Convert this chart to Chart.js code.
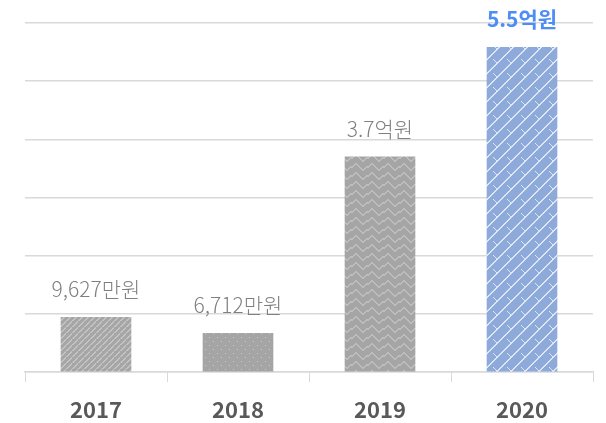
<!DOCTYPE html>
<html>
<head>
<meta charset="utf-8">
<script src="https://cdn.jsdelivr.net/npm/chart.js@4"></script>
<style>
  html, body { margin: 0; padding: 0; background: #fff; }
  #wrap { width: 606px; height: 423px; }
</style>
</head>
<body>
<div id="wrap"><canvas id="chart" width="606" height="423"></canvas></div>
<script>
const years = ['2017', '2018', '2019', '2020'];
const amounts = [0.94, 0.665, 3.7, 5.58]; // 억원
const valueLabels = ['9,627만원', '6,712만원', '3.7억원', '5.5억원'];
const labelColors = ['#7f7f7f', '#7f7f7f', '#7f7f7f', '#4d8ef6'];
const labelWeights = ['300', '300', '300', 'bold'];

const FONT = '"Noto Sans CJK KR", "Noto Sans", sans-serif';

// small tile patterns, rough imitation of the office fills
const makePattern = (w, h, draw) => {
    const c = document.createElement('canvas');
    c.width = w; c.height = h;
    const g = c.getContext('2d');
    draw(g, w, h);
    return c.getContext('2d').createPattern(c, 'repeat');
};

const stripes = makePattern(6, 6, (g, w, h) => {
    g.fillStyle = '#a6a6a6'; g.fillRect(0, 0, w, h);
    g.fillStyle = '#c3c3c3';
    for (let i = 0; i < 6; i++) {
        g.fillRect((i + 3) % 6, 5 - i, 2, 1);
    }
});

const dots = makePattern(8, 8, (g, w, h) => {
    g.fillStyle = '#a5a5a5'; g.fillRect(0, 0, w, h);
    g.fillStyle = '#c9c9c9';
    g.fillRect(1, 1, 1, 1);
    g.fillRect(5, 5, 1, 1);
});

const waves = makePattern(16, 9, (g, w, h) => {
    g.fillStyle = '#a5a5a5'; g.fillRect(0, 0, w, h);
    g.fillStyle = '#bdbdbd';
    const ys = [4, 3, 2, 1, 1, 2, 3, 4, 5, 6, 7, 7, 6, 5, 4, 4];
    ys.forEach((y, x) => g.fillRect(x, y % h, 1, 2));
});

const lattice = makePattern(14, 14, (g, w, h) => {
    g.fillStyle = '#8eaadb'; g.fillRect(0, 0, w, h);
    g.fillStyle = '#dce6f5';
    for (let i = 0; i < 14; i++) {
        g.fillRect(i, 13 - i, 1, 1);
        g.fillRect((i + 1) % 14, 13 - i, 1, 1);
    }
    for (let i = 0; i < 4; i++) {
        g.fillRect(3 + i, 3 + i, 1, 1);
    }
});

const fills = [stripes, dots, waves, lattice];

const valueLabelPlugin = {
    id: 'valueLabels',
    afterDatasetsDraw(chart) {
        const ctx = chart.ctx;
        const meta = chart.getDatasetMeta(0);
        ctx.save();
        ctx.textAlign = 'center';
        ctx.textBaseline = 'middle';
        meta.data.forEach((bar, i) => {
            ctx.font = labelWeights[i] + ' 21px ' + FONT;
            ctx.fillStyle = labelColors[i];
            ctx.fillText(valueLabels[i], bar.x, bar.y - 28);
        });
        ctx.restore();
    }
};

new Chart(document.getElementById('chart'), {
    type: 'bar',
    data: {
        labels: years,
        datasets: [{
            data: amounts,
            backgroundColor: fills,
            borderWidth: 0,
            barThickness: 70,
        }]
    },
    options: {
        responsive: false,
        animation: false,
        layout: { padding: { top: 23, right: 13, left: 0, bottom: 0 } },
        plugins: { legend: { display: false }, tooltip: { enabled: false } },
        scales: {
            x: {
                grid: {
                    offset: true,
                    drawOnChartArea: false,
                    drawTicks: true,
                    tickLength: 10,
                    color: '#d9d9d9',
                },
                border: { color: '#d9d9d9', width: 1.5 },
                ticks: {
                    color: '#595959',
                    font: { family: FONT, size: 22, weight: 'bold' },
                    padding: 14,
                },
                afterFit: (s) => { s.height = 51; },
            },
            y: {
                min: 0,
                max: 6,
                ticks: { display: false, stepSize: 1 },
                grid: { color: '#d9d9d9', lineWidth: 1.5, drawTicks: false },
                border: { display: false },
                afterFit: (s) => { s.width = 25; },
            }
        }
    },
    plugins: [valueLabelPlugin]
});
</script>
</body>
</html>
